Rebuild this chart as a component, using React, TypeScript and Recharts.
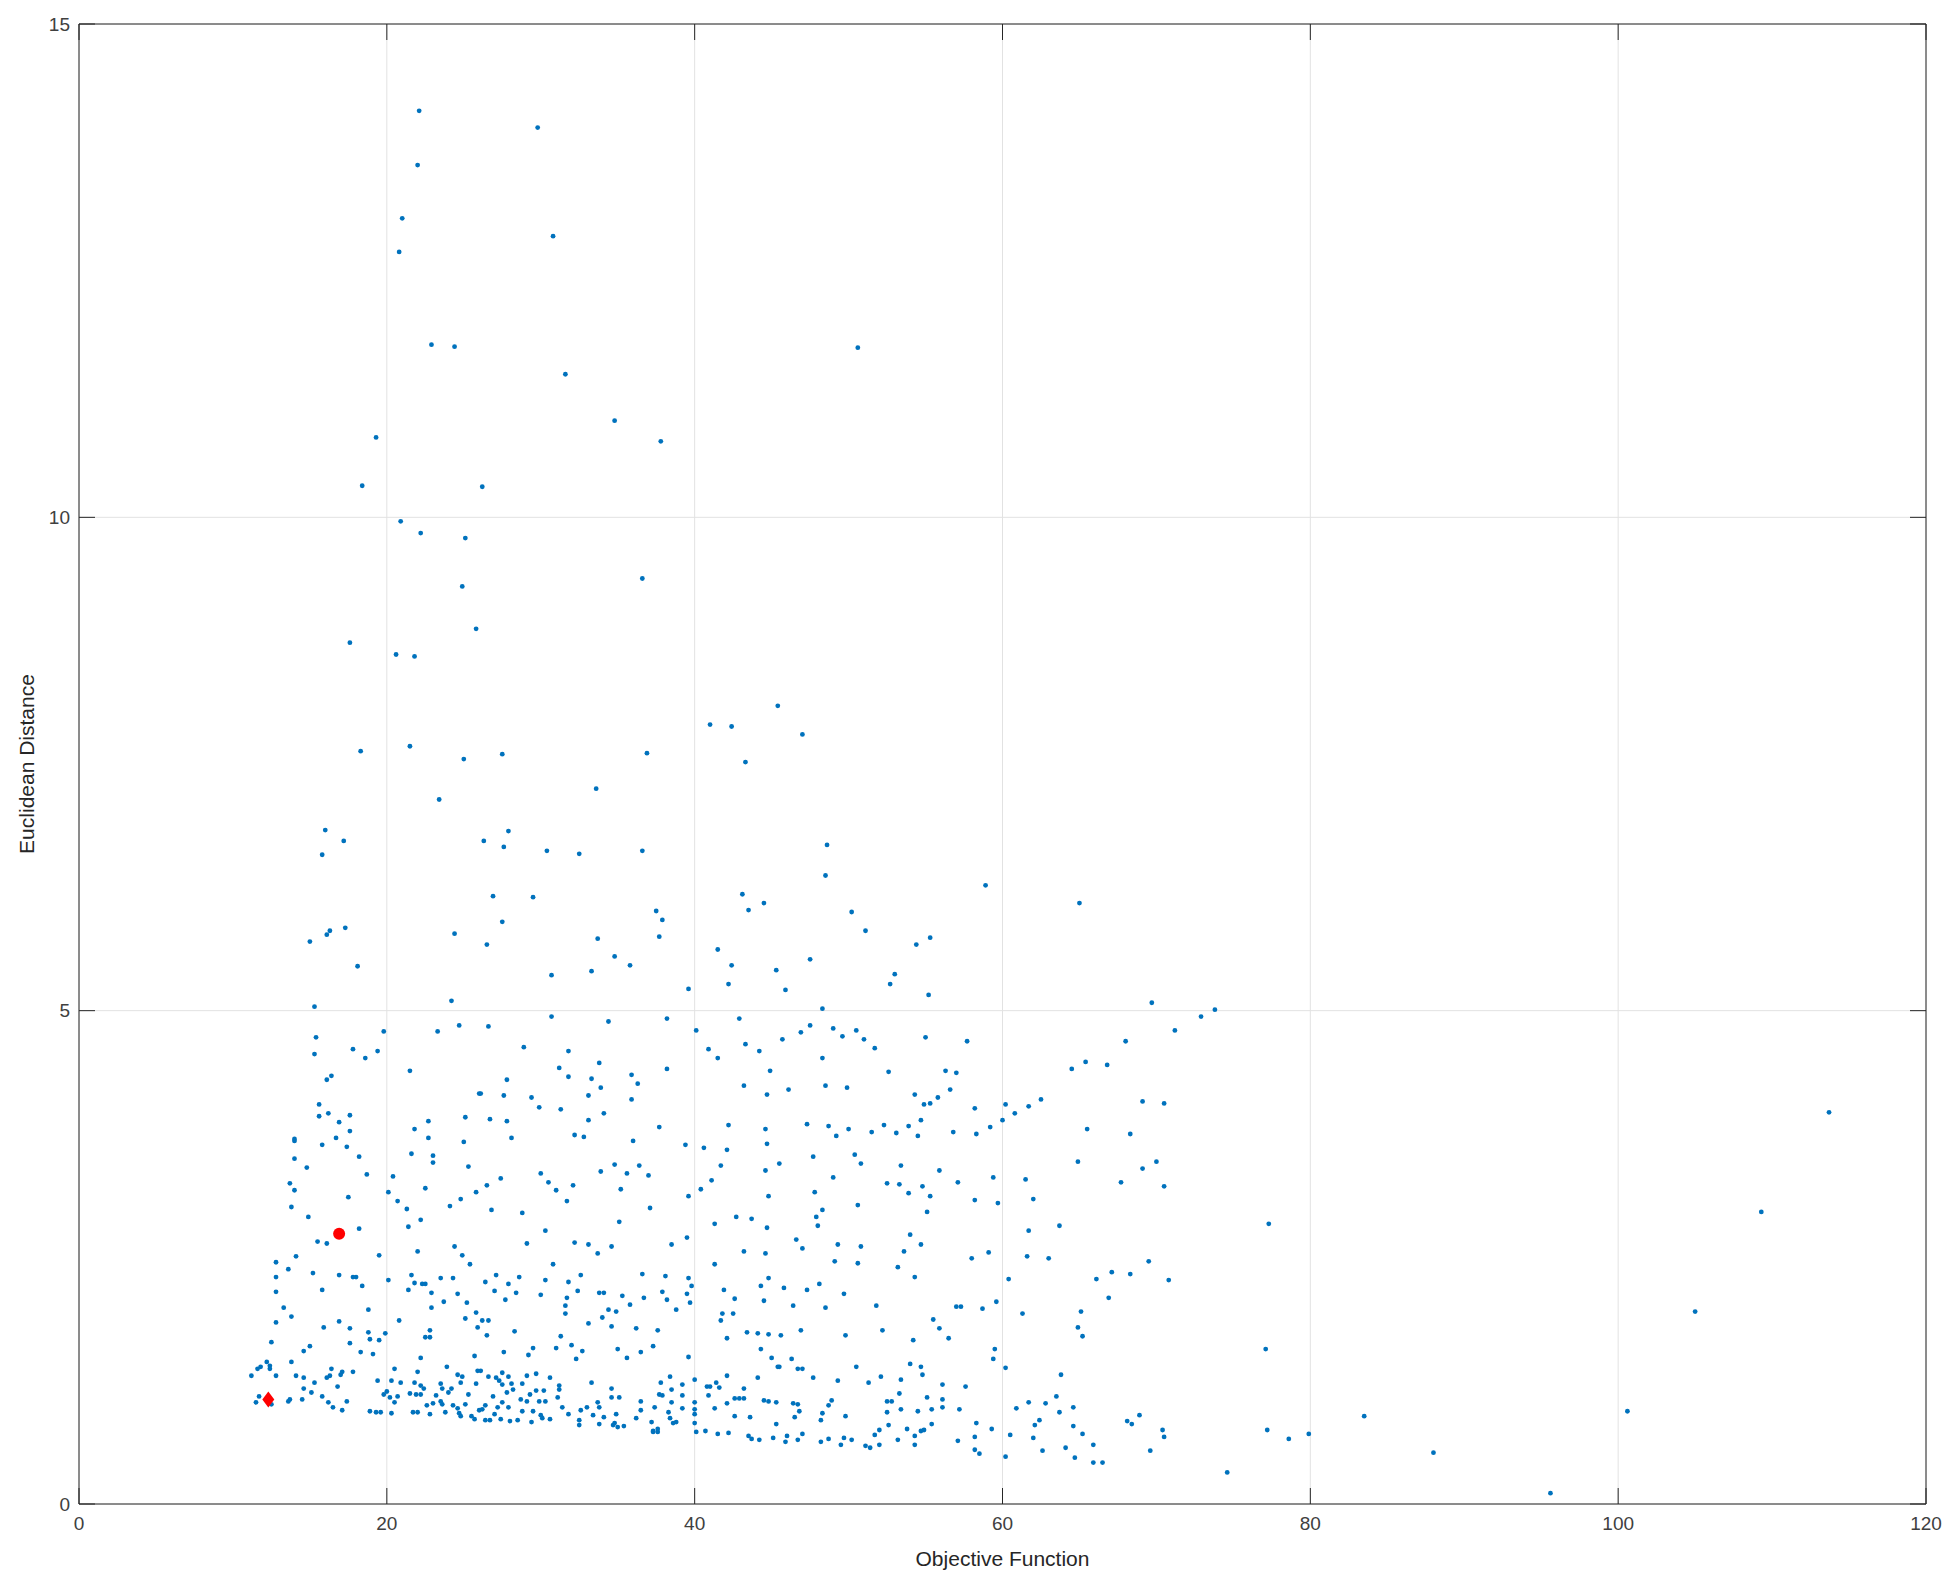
import { ScatterChart, Scatter, XAxis, YAxis, CartesianGrid, ReferenceLine } from 'recharts';

// tick values
const X_TICKS = [0, 20, 40, 60, 80, 100, 120];
const Y_TICKS = [0, 5, 10, 15];

// [objective, euclidean], grouped by area
const lowLeft: [number, number][] = [
  [15.5,2.66],[16.1,2.64],[14.1,2.51],[19.5,2.52],[22.0,2.56],[24.4,2.61],[24.9,2.52],[25.4,2.43],
  [12.8,2.45],[13.6,2.38],[15.2,2.34],[16.9,2.32],[17.8,2.30],[18.0,2.30],[18.4,2.21],[20.1,2.27],[21.6,2.32],[21.8,2.24],[22.3,2.23],[22.5,2.23],[23.5,2.29],[24.3,2.29],[24.6,2.13],
  [12.8,2.30],[12.8,2.15],[15.8,2.17],[21.4,2.17],[22.9,2.14],[23.7,2.05],[25.2,2.04],[25.8,1.94],
  [13.3,1.99],[13.8,1.90],[18.8,1.97],[22.9,1.99],[20.8,1.86],[25.1,1.88],[25.9,1.79],
  [12.8,1.84],[15.9,1.79],[16.9,1.85],[17.6,1.78],[18.8,1.74],[18.9,1.67],[19.5,1.66],[19.9,1.73],[22.8,1.76],[22.5,1.69],[22.8,1.69],
  [12.5,1.64],[14.6,1.55],[15.0,1.60],[17.6,1.63],[18.3,1.54],[19.1,1.52],[22.2,1.48],[25.7,1.50],
  [12.2,1.44],[11.8,1.39],[11.6,1.37],[11.2,1.30],[12.4,1.40],[12.4,1.37],[12.8,1.30],[13.8,1.44],[14.1,1.30],[14.6,1.28],[16.4,1.37],[16.3,1.30],[16.1,1.28],[17.1,1.34],[17.0,1.31],[17.8,1.34],
  [15.3,1.23],[16.8,1.19],[14.6,1.17],[15.1,1.13],[19.4,1.25],[20.3,1.25],[20.9,1.23],[20.5,1.37],[22.0,1.34],[21.8,1.23],[22.2,1.20],[22.4,1.17],[23.9,1.39],[24.6,1.31],[24.9,1.29],[23.5,1.22],[23.6,1.17],[24.2,1.17],[24.8,1.23],[25.9,1.35],[25.8,1.22],
  [11.5,1.03],[11.7,1.09],[12.5,1.01],[13.6,1.04],[13.7,1.06],[14.5,1.06],[15.8,1.09],[16.2,1.03],[16.5,0.98],[17.4,1.04],[17.1,0.95],[18.9,0.94],[19.3,0.93],[19.6,0.93],[19.8,1.11],[20.0,1.14],[20.2,1.08],[20.7,1.09],[20.5,1.03],[20.3,0.92],
  [21.5,1.12],[21.9,1.11],[22.2,1.11],[21.7,0.93],[22.0,0.93],[22.6,1.00],[22.8,0.91],[23.0,1.02],[23.2,1.10],[23.5,1.04],[23.6,1.01],[23.8,0.93],[24.0,1.13],[24.6,0.97],[24.3,1.00],[24.7,0.92],[24.8,0.89],[25.1,1.01],[25.3,1.11],[25.5,0.89],[25.7,0.86],[26.0,0.95],
];

const lowMid: [number, number][] = [
  [29.1,2.64],[32.2,2.65],[33.1,2.63],[33.7,2.54],[34.6,2.61],[38.5,2.63],[30.8,2.43],[41.3,2.43],
  [27.1,2.32],[28.6,2.30],[26.4,2.25],[27.9,2.23],[27.0,2.16],[28.4,2.14],[27.7,2.07],[30.3,2.27],[31.8,2.25],[30.0,2.12],[32.6,2.32],[32.4,2.16],[31.7,2.09],[31.6,2.01],[31.6,1.93],[33.8,2.14],[34.1,2.14],[35.3,2.11],[35.8,2.02],[36.7,2.09],[36.6,2.33],[38.1,2.31],[37.9,2.15],[38.2,2.07],[38.8,1.97],[39.6,2.29],[39.8,2.21],[39.5,2.13],[39.7,2.04],[41.9,2.17],[41.8,1.93],[41.7,1.86],[42.1,1.68],
  [26.2,1.86],[26.6,1.86],[26.5,1.71],[28.3,1.75],[33.1,1.83],[34.0,1.89],[34.4,1.97],[34.9,1.95],[34.6,1.80],[36.2,1.78],[37.6,1.76],[31.3,1.70],[32.0,1.61],[32.7,1.55],[32.3,1.47],[31.0,1.58],[29.5,1.58],[29.2,1.51],[27.6,1.54],[35.0,1.57],[35.6,1.48],[36.5,1.54],[37.3,1.60],[39.6,1.49],
  [26.1,1.35],[26.6,1.29],[27.1,1.28],[27.5,1.33],[27.3,1.25],[27.5,1.21],[27.9,1.29],[28.1,1.22],[28.2,1.16],[27.8,1.13],[29.1,1.30],[29.7,1.32],[28.8,1.22],[30.6,1.28],[31.2,1.20],[31.2,1.16],[29.7,1.15],[29.3,1.11],[30.2,1.15],[31.1,1.08],[26.9,1.09],
  [26.2,0.96],[26.4,1.00],[27.0,0.91],[27.2,0.98],[27.5,1.03],[27.9,0.98],[28.7,1.06],[29.1,1.04],[29.9,1.04],[30.3,1.04],[29.5,0.94],[28.8,0.94],[31.4,0.98],[31.8,0.91],[32.6,0.95],[33.0,0.98],[33.7,1.03],[33.8,0.98],[33.3,1.23],[34.6,1.17],[34.6,1.08],[35.1,1.08],[34.9,0.91],[33.4,0.90],[34.1,0.88],[36.5,1.04],[36.5,0.95],[36.2,0.87],
  [37.8,1.23],[38.4,1.29],[39.2,1.21],[37.7,1.11],[37.9,1.10],[38.5,1.16],[38.5,1.03],[39.2,1.10],[39.2,0.97],[37.4,0.98],[38.3,0.93],[38.4,0.87],[38.8,0.83],[38.6,0.82],[40.0,1.26],[40.0,1.03],[40.0,0.96],[40.0,0.91],[40.0,0.82],[40.1,0.73],[40.7,0.74],[41.5,0.71],[42.2,0.72],[40.8,1.19],[41.0,1.19],[40.9,1.10],[41.4,1.23],[41.6,1.18],[42.1,1.30],[42.1,1.02],[41.3,0.97],
  [26.4,0.85],[26.7,0.85],[27.4,0.86],[28.0,0.84],[28.5,0.85],[29.4,0.83],[30.0,0.90],[30.1,0.87],[30.6,0.86],[32.5,0.85],[32.5,0.80],[33.8,0.81],[34.7,0.80],[35.0,0.78],[35.4,0.79],[34.8,0.82],[37.2,0.83],[37.3,0.74],[37.6,0.76],[37.3,0.73],[37.6,0.73],
];

const lowRight: [number, number][] = [
  [43.2,2.56],[44.6,2.54],[46.6,2.68],[47.0,2.59],[49.3,2.63],[50.8,2.61],[49.1,2.46],[50.6,2.44],[53.6,2.56],[54.7,2.63],[53.2,2.40],[54.3,2.30],[58.0,2.49],
  [44.3,2.21],[44.8,2.29],[45.8,2.19],[47.3,2.17],[48.1,2.23],[44.5,2.06],[42.6,2.08],[42.5,1.93],[46.4,2.01],[48.5,1.99],[49.7,2.13],[51.8,2.01],[57.0,2.00],[57.3,2.00],
  [43.4,1.74],[44.1,1.73],[44.8,1.72],[45.6,1.71],[46.9,1.76],[44.3,1.57],[45.0,1.48],[45.4,1.39],[45.5,1.39],[46.3,1.47],[46.7,1.37],[47.0,1.37],[49.8,1.71],[52.2,1.76],[54.2,1.66],[55.5,1.87],[55.9,1.78],[56.5,1.68],
  [44.1,1.28],[47.7,1.28],[49.3,1.25],[50.5,1.39],[51.3,1.23],[52.1,1.29],[53.4,1.26],[54.0,1.42],[54.7,1.39],[54.8,1.31],[56.1,1.21],[57.6,1.19],
  [43.2,1.17],[42.6,1.07],[42.9,1.07],[43.2,1.07],[44.5,1.05],[44.8,1.04],[45.3,1.03],[46.4,1.02],[46.7,1.01],[46.8,0.94],[46.5,0.88],[42.6,0.89],[43.6,0.88],[48.3,0.92],[48.2,0.85],[48.7,1.00],[48.9,1.05],[49.8,0.89],[52.5,0.93],[52.5,1.04],[52.8,1.04],[53.3,1.12],[53.4,0.96],[54.5,0.94],[55.1,1.08],[55.4,0.96],[56.1,1.06],[56.1,0.98],[57.2,0.96],[55.4,0.81],[52.6,0.80],
  [43.5,0.69],[43.7,0.66],[44.2,0.65],[45.1,0.67],[45.3,0.81],[46.0,0.69],[45.9,0.63],[46.7,0.65],[47.0,0.71],[48.2,0.63],[48.7,0.66],[49.7,0.67],[49.5,0.60],[50.2,0.65],[51.1,0.59],[51.4,0.57],[52.0,0.60],[51.7,0.70],[52.0,0.75],[53.2,0.65],[53.8,0.76],[54.3,0.69],[54.3,0.60],[54.7,0.74],[54.9,0.75],[57.1,0.64],[58.2,0.68],[58.3,0.82],[58.2,0.55],[58.5,0.51],
];

const lowFar: [number, number][] = [
  [59.1,2.55],[61.6,2.51],[63.0,2.49],[60.4,2.28],[58.7,1.98],[59.6,2.05],[61.3,1.93],[66.1,2.28],[67.1,2.35],[68.3,2.33],[69.5,2.46],[70.8,2.27],[66.9,2.09],[65.1,1.95],[64.9,1.79],[65.2,1.70],[77.1,1.57],
  [59.5,1.57],[59.4,1.47],[60.2,1.38],[63.8,1.31],[63.5,1.09],[61.7,1.03],[62.8,1.02],[60.9,0.97],[64.6,0.98],[63.7,0.93],[62.4,0.85],[62.1,0.80],[64.6,0.79],[65.2,0.71],[62.0,0.67],[60.5,0.70],[59.3,0.76],[62.6,0.54],[64.1,0.57],[65.9,0.60],[64.7,0.47],[65.9,0.42],[66.5,0.42],[60.2,0.48],
  [68.1,0.84],[68.4,0.81],[68.9,0.90],[70.4,0.75],[70.5,0.68],[69.6,0.54],[74.6,0.32],[77.2,0.75],
  [78.6,0.66],[79.9,0.71],[83.5,0.89],[88.0,0.52],[95.6,0.11],[100.6,0.94],[105.0,1.95],[109.3,2.96],[113.7,3.97],
];

const midLeft: [number, number][] = [
  [15.3,5.04],[24.2,5.10],[15.4,4.73],[15.3,4.56],[17.8,4.61],[18.6,4.52],[19.4,4.59],[19.8,4.79],[23.3,4.79],[24.7,4.85],[21.5,4.39],[16.1,4.30],[16.4,4.34],[26.0,4.16],[15.6,4.05],[15.6,3.93],[16.2,3.96],[16.9,3.87],[17.6,3.94],[17.6,3.78],[16.7,3.71],[15.8,3.64],[17.4,3.62],[18.2,3.52],[18.7,3.34],
  [14.0,3.70],[14.0,3.68],[14.0,3.50],[14.8,3.41],[13.7,3.25],[14.0,3.18],[13.8,3.01],[14.9,2.91],[17.5,3.11],[18.2,2.79],[20.4,3.32],[20.1,3.16],[20.7,3.07],[21.3,2.99],[21.4,2.81],[22.2,2.88],[22.5,3.20],[24.1,3.02],[24.8,3.09],[25.8,3.16],[25.3,3.42],[25.0,3.67],[25.1,3.92],[22.7,3.88],[21.8,3.80],[22.7,3.71],[21.6,3.55],[23.0,3.53],[23.0,3.46],
];

const midMid: [number, number][] = [
  [26.6,4.84],[30.7,4.94],[34.4,4.89],[38.2,4.92],[40.1,4.80],[40.9,4.61],[41.5,4.52],[28.9,4.63],[31.8,4.59],[33.8,4.47],[31.2,4.42],[31.8,4.33],[33.3,4.31],[27.8,4.30],[35.9,4.35],[36.3,4.26],[38.2,4.41],[26.1,4.16],[27.6,4.14],[29.4,4.12],[29.9,4.02],[31.3,4.00],[33.1,4.14],[33.9,4.22],[35.9,4.10],[34.1,3.96],[33.1,3.89],[26.7,3.90],[27.8,3.88],[28.1,3.71],[32.2,3.74],[32.8,3.72],[36.0,3.68],[37.7,3.82],[39.4,3.64],[40.6,3.61],[42.1,3.59],[42.2,3.84],
  [41.7,3.43],[41.1,3.28],[40.4,3.19],[39.6,3.12],[34.8,3.44],[33.9,3.37],[35.6,3.35],[36.4,3.43],[37.0,3.33],[35.2,3.19],[30.0,3.35],[30.5,3.26],[31.0,3.18],[32.1,3.23],[31.7,3.07],[27.4,3.30],[26.5,3.23],[26.8,2.98],[28.8,2.95],[37.1,3.00],[35.1,2.86],[30.3,2.77],[41.3,2.84],[39.5,2.70],
];

const midRight: [number, number][] = [
  [48.3,5.02],[42.9,4.92],[43.3,4.66],[44.2,4.59],[45.7,4.71],[46.9,4.78],[47.5,4.85],[49.0,4.82],[49.6,4.74],[50.5,4.80],[51.0,4.71],[51.7,4.62],[48.3,4.52],[55.0,4.73],[57.7,4.69],[44.9,4.39],[43.2,4.24],[44.7,4.15],[46.1,4.20],[48.5,4.24],[49.9,4.22],[52.6,4.38],[56.3,4.39],[57.0,4.37],
  [54.3,4.15],[54.9,4.05],[55.3,4.06],[55.8,4.12],[56.6,4.20],[58.2,4.01],[54.7,3.89],[53.9,3.83],[54.5,3.73],[53.1,3.76],[52.3,3.84],[51.5,3.77],[50.0,3.80],[48.7,3.83],[49.2,3.73],[47.3,3.85],[44.6,3.80],[44.7,3.65],[45.5,3.45],[44.6,3.38],[47.7,3.52],[49.0,3.31],[50.4,3.54],[50.8,3.45],[53.4,3.43],[55.9,3.38],[56.8,3.77],[58.3,3.75],
  [57.1,3.26],[52.5,3.25],[53.3,3.24],[53.9,3.15],[54.8,3.22],[55.3,3.12],[55.1,2.96],[58.2,3.08],[50.6,3.03],[47.8,3.16],[48.3,2.98],[47.9,2.91],[48.0,2.82],[44.8,3.12],[42.7,2.91],[43.7,2.89],[44.7,2.80],[54.0,2.73],
];

const midFar: [number, number][] = [
  [69.7,5.08],[72.9,4.94],[73.8,5.01],[71.2,4.80],[68.0,4.69],[64.5,4.41],[65.4,4.48],[66.8,4.45],[60.2,4.05],[60.0,3.89],[60.8,3.96],[61.7,4.03],[62.5,4.10],[59.2,3.82],[69.1,4.08],[70.5,4.06],[65.5,3.80],[68.3,3.75],[64.9,3.47],[69.1,3.40],[70.0,3.47],[67.7,3.26],[70.5,3.22],[59.4,3.31],[61.5,3.29],[62.0,3.09],[59.7,3.05],[61.7,2.77],[63.7,2.82],[77.3,2.84],
];

const upper: [number, number][] = [
  [17.6,8.73],[20.6,8.61],[21.8,8.59],[25.8,8.87],[18.3,7.63],[21.5,7.68],[25.0,7.55],[27.5,7.60],[23.4,7.14],[33.6,7.25],[36.9,7.61],[41.0,7.90],[42.4,7.88],[16.0,6.83],[17.2,6.72],[15.8,6.58],[26.3,6.72],[27.9,6.82],[27.6,6.66],[30.4,6.62],[32.5,6.59],[36.6,6.62],[26.9,6.16],[29.5,6.15],[37.5,6.01],[37.9,5.92],[37.7,5.75],[33.7,5.73],[27.5,5.90],[24.4,5.78],[26.5,5.67],[34.8,5.55],[35.8,5.46],[33.3,5.40],[30.7,5.36],[39.6,5.22],[41.5,5.62],[42.4,5.46],[42.2,5.27],[15.0,5.70],[16.1,5.77],[16.3,5.81],[17.3,5.84],[18.1,5.45],
  [45.4,8.09],[47.0,7.80],[43.3,7.52],[48.6,6.68],[48.5,6.37],[58.9,6.27],[65.0,6.09],[43.1,6.18],[43.5,6.02],[44.5,6.09],[50.2,6.00],[51.1,5.81],[54.4,5.67],[55.3,5.74],[45.3,5.41],[45.9,5.21],[47.5,5.52],[53.0,5.37],[52.7,5.27],[55.2,5.16],
  [22.1,14.12],[29.8,13.95],[22.0,13.57],[21.0,13.03],[30.8,12.85],[20.8,12.69],[22.9,11.75],[24.4,11.73],[50.6,11.72],[31.6,11.45],[34.8,10.98],[37.8,10.77],[19.3,10.81],[18.4,10.32],[26.2,10.31],[20.9,9.96],[22.2,9.84],[25.1,9.79],[36.6,9.38],[24.9,9.30],
];

// highlighted solutions
const bestPoint: [number, number][] = [[12.3, 1.06]];
const chosenPoint: [number, number][] = [[16.9, 2.74]];

const toRows = (pts: [number, number][]) => pts.map(([x, y]) => ({ x, y }));
const allPoints = toRows([...lowLeft, ...lowMid, ...lowRight, ...lowFar, ...midLeft, ...midMid, ...midRight, ...midFar, ...upper]);

const W = 1960;
const H = 1592;
const PLOT_W = 1847;
const PLOT_H = 1480;
const TICK_LEN = 16;
const AXIS_COLOR = '#262626';
const FONT = '"Liberation Sans", Arial, sans-serif';

const XTick = ({ x, y, payload }: any) => (
  <g>
    <line x1={x} x2={x} y1={y} y2={y - TICK_LEN} stroke={AXIS_COLOR} />
    <line x1={x} x2={x} y1={y - PLOT_H} y2={y - PLOT_H + TICK_LEN} stroke={AXIS_COLOR} />
    <text x={x} y={y + 13} dy="0.71em" textAnchor="middle" fill="#404040" fontSize={19} fontFamily={FONT}>
      {payload.value}
    </text>
  </g>
);

const YTick = ({ x, y, payload }: any) => (
  <g>
    <line x1={x} x2={x + TICK_LEN} y1={y} y2={y} stroke={AXIS_COLOR} />
    <line x1={x + PLOT_W - TICK_LEN} x2={x + PLOT_W} y1={y} y2={y} stroke={AXIS_COLOR} />
    <text x={x - 9} y={y} dy="0.35em" textAnchor="end" fill="#404040" fontSize={19} fontFamily={FONT}>
      {payload.value}
    </text>
  </g>
);

const Dot = (props: any) => <circle cx={props.cx} cy={props.cy} r={2.4} fill="#0072BD" />;
const RedCircle = (props: any) => <circle cx={props.cx} cy={props.cy} r={6} fill="#FF0000" />;
const RedDiamond = (props: any) => (
  <path
    d={`M${props.cx},${props.cy - 8} L${props.cx + 6},${props.cy} L${props.cx},${props.cy + 8} L${props.cx - 6},${props.cy} Z`}
    fill="#FF0000"
  />
);

export default function App() {
  return (
    <div style={{ position: 'absolute', left: 0, top: 0, width: W, height: H, background: '#fff' }}>
      <ScatterChart width={W} height={H} margin={{ top: 24, right: 34, bottom: 0, left: 19 }}>
        <CartesianGrid stroke="#e2e2e2" />
        <XAxis
          type="number"
          dataKey="x"
          domain={[0, 120]}
          ticks={X_TICKS}
          height={88}
          tickSize={0}
          tickMargin={0}
          tickLine={false}
          axisLine={{ stroke: AXIS_COLOR }}
          tick={<XTick />}
          interval={0}
        />
        <YAxis
          type="number"
          dataKey="y"
          domain={[0, 15]}
          ticks={Y_TICKS}
          width={60}
          tickSize={0}
          tickMargin={0}
          tickLine={false}
          axisLine={{ stroke: AXIS_COLOR }}
          tick={<YTick />}
          interval={0}
        />
        <ReferenceLine y={15} stroke={AXIS_COLOR} />
        <ReferenceLine x={120} stroke={AXIS_COLOR} />
        <Scatter data={allPoints} shape={<Dot />} isAnimationActive={false} />
        <Scatter data={toRows(chosenPoint)} shape={<RedCircle />} isAnimationActive={false} />
        <Scatter data={toRows(bestPoint)} shape={<RedDiamond />} isAnimationActive={false} />
      </ScatterChart>
      <div
        style={{
          position: 'absolute', left: 79, top: 1546, width: PLOT_W, textAlign: 'center',
          fontFamily: FONT, fontSize: 21, lineHeight: '26px', color: '#262626',
        }}
      >
        Objective Function
      </div>
      <div
        style={{
          position: 'absolute', left: 27 - 200, top: 764 - 13, width: 400, textAlign: 'center',
          fontFamily: FONT, fontSize: 21, lineHeight: '26px', color: '#262626', transform: 'rotate(-90deg)',
        }}
      >
        Euclidean Distance
      </div>
    </div>
  );
}
